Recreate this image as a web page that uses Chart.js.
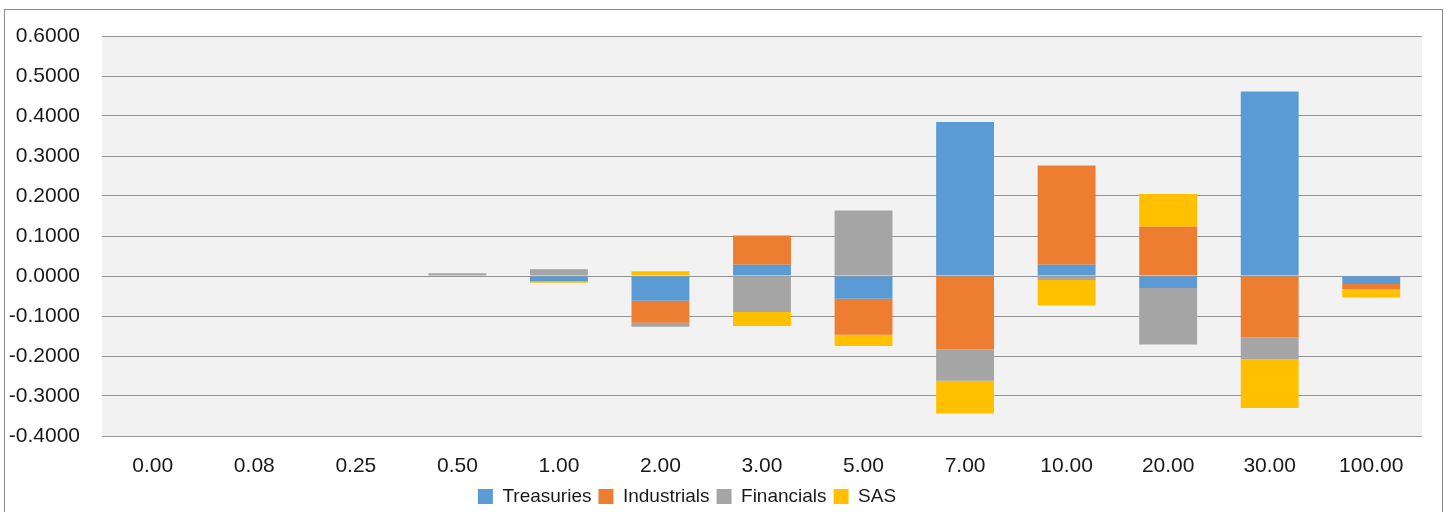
<!DOCTYPE html>
<html>
<head>
<meta charset="utf-8">
<script src="https://cdn.jsdelivr.net/npm/chart.js@4/dist/chart.umd.min.js"></script>
<style>
  html, body { margin: 0; padding: 0; background: #fff; overflow: hidden; }
  #wrap { position: relative; width: 1445px; height: 516px; }
</style>
</head>
<body>
<div id="wrap"><canvas id="curve"></canvas></div>
<script>
const maturities = ["0.00", "0.08", "0.25", "0.50", "1.00", "2.00", "3.00", "5.00", "7.00", "10.00", "20.00", "30.00", "100.00"];
const treasuries  = [0, 0, 0, 0,     -0.014, -0.062,  0.028, -0.057,  0.385,  0.028, -0.030,  0.461, -0.020];
const industrials = [0, 0, 0, 0,      0,     -0.055,  0.073, -0.090, -0.184,  0.248,  0.123, -0.153, -0.013];
const financials  = [0, 0, 0, 0.007,  0.017, -0.010, -0.090,  0.164, -0.078, -0.010, -0.141, -0.055,  0];
const sas         = [0, 0, 0, 0,     -0.003,  0.012, -0.035, -0.028, -0.082, -0.064,  0.082, -0.122, -0.021];
const yMin = -0.4, yMax = 0.6, yStep = 0.1;

const FONT = "'Liberation Sans', Arial, sans-serif";

// frame around the whole chart + grey plot background
const frame = {
  id: "frame",
  beforeDraw(chart) {
    const ctx = chart.ctx, a = chart.chartArea;
    ctx.save();
    ctx.strokeStyle = "#8c8c8c";
    ctx.lineWidth = 1;
    ctx.strokeRect(4.5, 9.5, 1438, 520);
    ctx.fillStyle = "#f2f2f2";
    ctx.fillRect(a.left, a.top, a.right - a.left, a.bottom - a.top);
    ctx.restore();
  },
  afterLayout(chart) {
    // legend sits a little left of centre
    const lg = chart.legend;
    lg.left -= 24;
    lg.right -= 24;
  }
};

function ds(label, data, color) {
  return { label, data, backgroundColor: color, borderWidth: 0,
           barPercentage: 1, categoryPercentage: 0.57 };
}

new Chart(document.getElementById("curve"), {
  type: "bar",
  data: {
    labels: maturities,
    datasets: [
      ds("Treasuries", treasuries, "#5b9bd5"),
      ds("Industrials", industrials, "#ed7d31"),
      ds("Financials", financials, "#a5a5a5"),
      ds("SAS", sas, "#ffc000")
    ]
  },
  options: {
    responsive: true,
    maintainAspectRatio: false,
    animation: false,
    layout: { padding: { top: 36, right: 23, bottom: 0, left: 0 } },
    plugins: {
      tooltip: { enabled: false },
      legend: {
        position: "bottom",
        labels: {
          font: { family: FONT, size: 19 },
          color: "#1a1a1a",
          boxWidth: 15,
          boxHeight: 15,
          padding: 7
        }
      }
    },
    scales: {
      x: {
        stacked: true,
        grid: { display: false, drawTicks: false },
        border: { display: false },
        ticks: { font: { family: FONT, size: 21 }, color: "#1a1a1a", padding: 18, maxRotation: 0 },
        afterFit(scale) { scale.height = 44; }
      },
      y: {
        stacked: true,
        min: yMin,
        max: yMax,
        grid: { color: "#949494", lineWidth: 1, drawTicks: false },
        border: { display: false },
        ticks: {
          stepSize: yStep,
          font: { family: FONT, size: 21 },
          color: "#1a1a1a",
          padding: 22,
          callback: v => (Math.abs(v) < 1e-9 ? 0 : v).toFixed(4)
        },
        afterFit(scale) { scale.width = 102; }
      }
    }
  },
  plugins: [frame]
});
</script>
</body>
</html>
